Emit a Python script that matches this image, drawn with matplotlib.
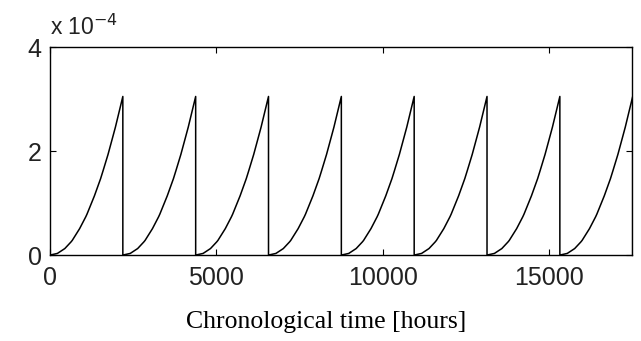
import matplotlib
matplotlib.use("Agg")
import matplotlib.pyplot as plt
import numpy as np

# Reset times of the sawtooth (hours)
reset_times = [0, 2190, 4380, 6570, 8760, 10950, 13140, 15330, 17520]
# Shape of one cycle: fraction of cycle vs value (x 1e-4)
cycle_frac = [0.0, 0.1, 0.2, 0.3, 0.4, 0.5, 0.6, 0.7, 0.8, 0.9, 1.0]
cycle_vals = [0.0, 0.03, 0.12, 0.27, 0.49, 0.76, 1.10, 1.49, 1.95, 2.47, 3.05]

x_ticks = [0, 5000, 10000, 15000]
y_ticks = [0, 2, 4]
x_label = "Chronological time [hours]"

fig = plt.figure(figsize=(6.41, 3.41), dpi=100)
ax = fig.add_axes([0.078, 0.252, 0.908, 0.610])

xs, ys = [], []
for a, b in zip(reset_times[:-1], reset_times[1:]):
    f = np.array(cycle_frac)
    v = np.array(cycle_vals)
    ff = np.linspace(0, 1, 60)
    xs.extend(list(a + ff * (b - a)))
    ys.extend(list(np.interp(ff, f, v)))
    xs.append(b)
    ys.append(0.0)
ax.plot(xs, ys, color="black", lw=1.1)

ax.set_xlim(0, 17500)
ax.set_ylim(0, 4)
ax.set_xticks(x_ticks)
ax.set_yticks(y_ticks)
ax.tick_params(direction="in", top=True, right=True, length=4, width=0.8,
               labelsize=18)
ax.tick_params(axis="x", pad=8)
ax.tick_params(axis="y", pad=6)
for lab in ax.get_xticklabels() + ax.get_yticklabels():
    lab.set_family("Liberation Sans")
    lab.set_color("#222222")
for s in ax.spines.values():
    s.set_linewidth(1.0)

fig.text(0.078, 0.92, r"x 10$^{-4}$", family="Liberation Sans", fontsize=16.5,
         ha="left", va="center", color="#222222")
fig.text(0.508, 0.055, x_label, family="Liberation Serif", fontsize=18.5,
         ha="center", va="center")

fig.savefig("out.png", dpi=100)
